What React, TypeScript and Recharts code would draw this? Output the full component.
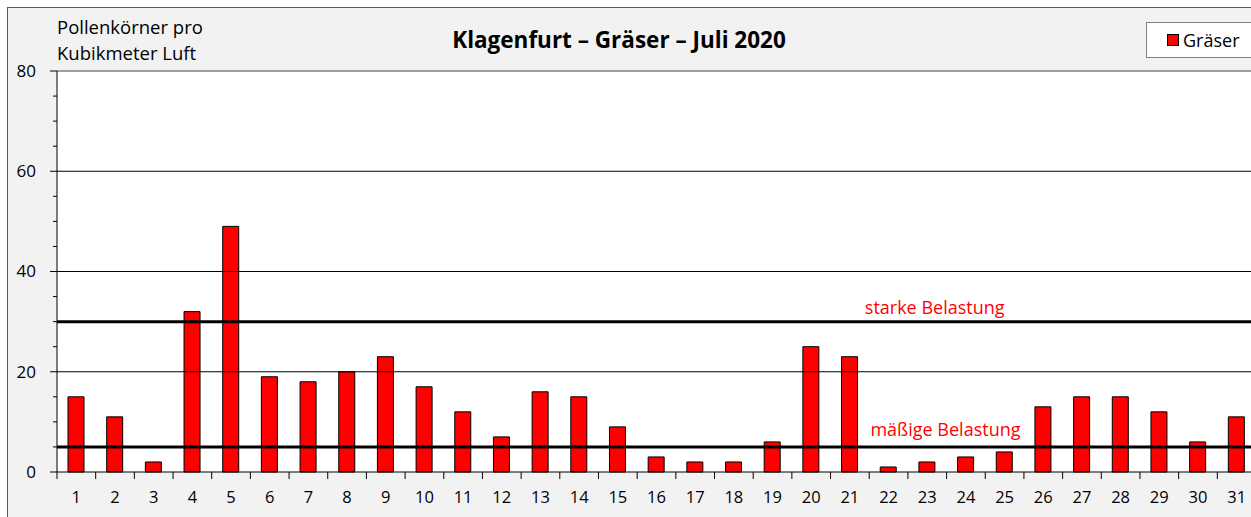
import React from 'react';
import { BarChart, Bar, XAxis, YAxis, ReferenceLine, CartesianGrid } from 'recharts';

const days = ['1','2','3','4','5','6','7','8','9','10','11','12','13','14','15','16','17','18','19','20','21','22','23','24','25','26','27','28','29','30','31'];
const pollen = [15,11,2,32,49,19,18,20,23,17,12,7,16,15,9,3,2,2,6,25,23,1,2,3,4,13,15,15,12,6,11];
const yTicks = [0,5,10,15,20,25,30,35,40,45,50,55,60,65,70,75,80];
const yLabelTicks = [0,20,40,60,80];
const gridValues = [20,40,60];
const thresholds = [
  { value: 30, label: 'starke Belastung', pos: 0.732, dy: -8 },
  { value: 5, label: 'mäßige Belastung', pos: 0.741, dy: -11 },
];
const seriesName = 'Gräser';
const title = 'Klagenfurt – Gräser – Juli 2020';
const yTitle = ['Pollenkörner pro', 'Kubikmeter Luft'];

const data = days.map((d, i) => ({ day: d, value: pollen[i] }));

const FONT = '"Open Sans", Lato, sans-serif';
const W = 1270;
const H = 530;
const M = { top: 71, right: 14, bottom: 28, left: 0 };
const Y_W = 57;
const X_H = 30;
const plotW = W - M.left - M.right - Y_W;
const half = plotW / days.length / 2;

const XTick = (props: any) => {
  const { x, y, payload, index } = props;
  const top = y - 8;
  return (
    <g>
      <line x1={x - half} x2={x - half} y1={top} y2={top + 7} stroke="#000" strokeWidth={1} />
      {index === days.length - 1 && (
        <line x1={x + half} x2={x + half} y1={top} y2={top + 7} stroke="#000" strokeWidth={1} />
      )}
      <text x={x} y={top + 31} textAnchor="middle" fontFamily={FONT} fontSize={16.5} fill="#000">
        {payload.value}
      </text>
    </g>
  );
};

const YTick = (props: any) => {
  const { x, y, payload } = props;
  const axisX = x + 8;
  const major = yLabelTicks.includes(payload.value);
  return (
    <g>
      <line x1={axisX - (major ? 7 : 4)} x2={axisX} y1={y} y2={y} stroke="#000" strokeWidth={1} />
      {major && (
        <text x={axisX - 21} y={y} dy="0.35em" textAnchor="end" fontFamily={FONT} fontSize={17} fill="#000">
          {payload.value}
        </text>
      )}
    </g>
  );
};

const makeLabel = (t: { label: string; pos: number; dy: number }) => (props: any) => {
  const vb = props.viewBox || {};
  return (
    <text x={vb.x + vb.width * t.pos} y={vb.y + t.dy} textAnchor="middle" fontFamily={FONT} fontSize={18} fill="#ff0000">
      {t.label}
    </text>
  );
};

export default function App() {
  return (
    <div style={{ position: 'fixed', left: 0, top: 0, width: 1251, height: 517, overflow: 'hidden', background: '#fff' }}>
      <div style={{ position: 'absolute', left: 7, top: 7, width: 1300, height: 600, background: '#f2f2f2', border: '1px solid #595959' }} />
      <div style={{ position: 'absolute', left: 0, top: 0 }}>
        <BarChart width={W} height={H} data={data} margin={M}>
          <CartesianGrid horizontal={false} vertical={false} fill="#fff" />
          {gridValues.map((v) => (
            <ReferenceLine key={v} y={v} stroke="#000" strokeWidth={1} />
          ))}
          <ReferenceLine y={80} stroke="#7f7f7f" strokeWidth={1.5} />
          <XAxis dataKey="day" height={X_H} interval={0} tickLine={false} axisLine={{ stroke: '#000' }} tick={XTick} />
          <YAxis type="number" domain={[0, 80]} ticks={yTicks} interval={0} width={Y_W} tickLine={false} axisLine={{ stroke: '#000' }} tick={YTick} />
          <Bar dataKey="value" name={seriesName} fill="#ff0000" stroke="#000" strokeWidth={1} barSize={16} isAnimationActive={false} />
          {thresholds.map((t) => (
            <ReferenceLine key={t.value} y={t.value} stroke="#000" strokeWidth={3} label={makeLabel(t)} />
          ))}
        </BarChart>
      </div>
      <div style={{
        position: 'absolute', left: 1146, top: 22, width: 120, height: 36,
        background: '#fff', border: '1px solid #7f7f7f', boxSizing: 'border-box',
        display: 'flex', alignItems: 'center', paddingLeft: 20,
        fontFamily: FONT, fontSize: 18, color: '#000',
      }}>
        <span style={{ display: 'inline-block', width: 10, height: 10, background: '#ff0000', border: '1px solid #000', marginRight: 4 }} />
        {seriesName}
      </div>
      <div style={{ position: 'absolute', left: 619, top: 27, transform: 'translateX(-50%)', fontFamily: FONT, fontWeight: 700, fontSize: 22.5, whiteSpace: 'nowrap', lineHeight: '26px' }}>
        {title}
      </div>
      <div style={{ position: 'absolute', left: 57, top: 14, fontFamily: FONT, fontSize: 18.5, lineHeight: '26px', whiteSpace: 'nowrap' }}>
        <div>{yTitle[0]}</div>
        <div>{yTitle[1]}</div>
      </div>
    </div>
  );
}
